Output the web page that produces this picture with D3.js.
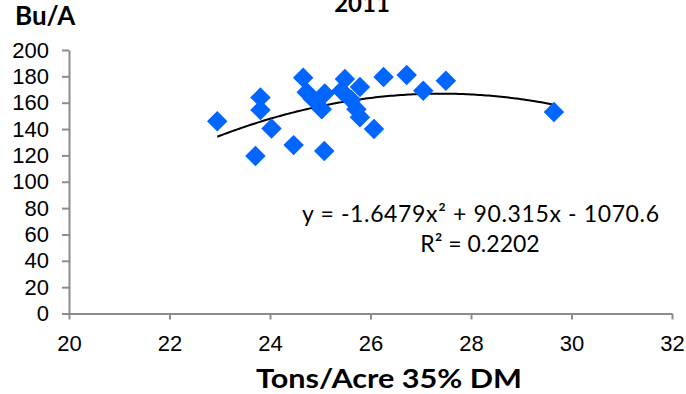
<!DOCTYPE html>
<html>
<head>
<meta charset="utf-8">
<script src="https://cdn.jsdelivr.net/npm/d3@7"></script>
<style>
  body { margin: 0; background: #fff; }
  svg { display: block; font-family: Lato, "Open Sans", sans-serif; }
  .tick text { font-size: 22px; fill: #000; }
  .tick line, .domain { stroke: #8c8c8c; stroke-width: 2px; }
</style>
</head>
<body>
<div id="chart"></div>
<script>
// tons/acre (x) vs bu/acre (y)
const tons = [22.95, 23.81, 23.81, 24.03, 23.71, 24.47, 25.08, 24.66, 24.73, 24.85, 25.09,
  25.03, 25.49, 25.42, 25.79, 25.62, 25.72, 25.79, 26.07, 26.26, 26.72, 27.05, 27.5, 29.65];
const yields = [146, 164, 154.5, 140.5, 119.5, 127.8, 123.3, 179, 168, 163, 167,
  155, 178, 169, 172, 162, 155, 149, 140, 179.5, 181, 169, 176.7, 153];
const coef = [-1.6479, 90.315, -1070.6];
const xTicks = [20, 22, 24, 26, 28, 30, 32];
const yTicks = [0, 20, 40, 60, 80, 100, 120, 140, 160, 180, 200];

const width = 686, height = 394;

const svg = d3.select("#chart").append("svg")
    .attr("width", width)
    .attr("height", height);

const x = d3.scaleLinear().domain([20, 32]).range([69, 672]);
const y = d3.scaleLinear().domain([0, 200]).range([313.5, 50]);

svg.append("g")
    .attr("transform", `translate(0,${y(0)})`)
    .call(d3.axisBottom(x).tickValues(xTicks).tickSize(6).tickSizeOuter(0))
    .call(g => g.selectAll(".tick text").attr("y", 37).attr("dy", null));

svg.append("g")
    .attr("transform", `translate(${x(20)},0)`)
    .call(d3.axisLeft(y).tickValues(yTicks).tickSize(7).tickPadding(13).tickSizeOuter(0));

// quadratic trend over the data range
const f = t => coef[0] * t * t + coef[1] * t + coef[2];
const xs = d3.range(d3.min(tons), d3.max(tons) + 0.001, 0.05);
svg.append("path")
    .datum(xs)
    .attr("fill", "none")
    .attr("stroke", "#000")
    .attr("stroke-width", 2)
    .attr("d", d3.line().x(d => x(d)).y(d => y(f(d))));

const diamond = d3.symbol().type(d3.symbolSquare).size(210);
svg.append("g").selectAll("path")
    .data(tons.map((t, i) => [t, yields[i]]))
  .join("path")
    .attr("d", diamond)
    .attr("fill", "#0066ff")
    .attr("transform", d => `translate(${x(d[0])},${y(d[1])}) rotate(45)`);

// labels
svg.append("text")
    .attr("x", 362).attr("y", 12)
    .attr("text-anchor", "middle")
    .attr("font-weight", "bold").attr("font-size", 24)
    .text("2011");

svg.append("text")
    .attr("x", 15).attr("y", 25)
    .attr("font-weight", "bold").attr("font-size", 26)
    .text("Bu/A");

svg.append("text")
    .attr("x", 256).attr("y", 388)
    .attr("font-weight", "bold").attr("font-size", 26)
    .attr("textLength", 266).attr("lengthAdjust", "spacingAndGlyphs")
    .text("Tons/Acre 35% DM");

const eq = svg.append("g").attr("font-size", 23);
eq.append("text").attr("x", 302).attr("y", 222)
    .attr("textLength", 357).attr("lengthAdjust", "spacing")
    .text("y = -1.6479x² + 90.315x - 1070.6");
eq.append("text").attr("x", 480).attr("y", 252)
    .attr("text-anchor", "middle")
    .text("R² = 0.2202");
</script>
</body>
</html>
